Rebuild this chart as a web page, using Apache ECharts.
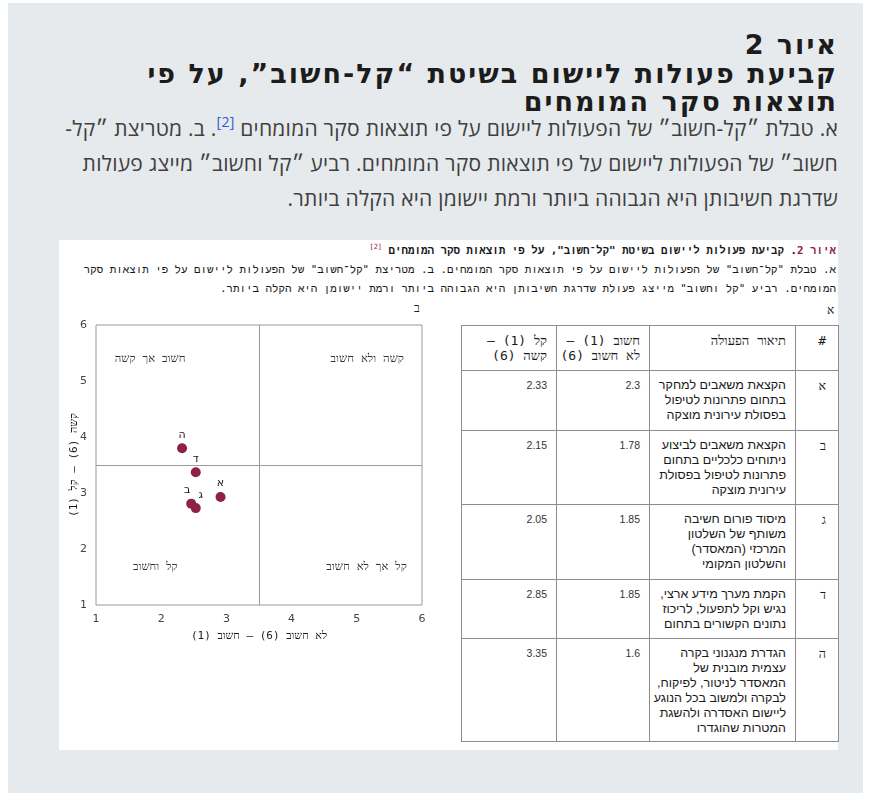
<!DOCTYPE html>
<html lang="he">
<head>
<meta charset="utf-8">
<script src="https://cdn.jsdelivr.net/npm/echarts@6/dist/echarts.min.js"></script>
<style>
  html, body { margin: 0; padding: 0; width: 869px; height: 793px; overflow: hidden; background: #ffffff; }
  #panel { position: absolute; left: 8px; top: 3px; width: 855px; height: 790px; background: #e6eaed; }
  .rtl { direction: rtl; text-align: right; }
  .tl { position: absolute; right: 31px; width: 780px; height: 24px; font-family: "DejaVu Sans", sans-serif; font-weight: bold; font-size: 27px; line-height: 24px; letter-spacing: 2px; color: #1c1c1c; white-space: nowrap; }
  .pl { position: absolute; right: 31px; width: 800px; height: 26px; font-family: "Open Sans", "Liberation Sans", sans-serif; font-size: 21px; line-height: 26px; letter-spacing: 0.25px; color: #404040; white-space: nowrap; }
  .pl sup { color: #2a5fd0; font-size: 14px; vertical-align: baseline; position: relative; top: -9px; line-height: 0; }
  #img { position: absolute; left: 59px; top: 240px; width: 779px; height: 510px; background: #ffffff; }
  #cap { position: absolute; right: 2px; top: 1px; font-family: "DejaVu Sans Mono", "Liberation Mono", monospace; font-size: 10.8px; line-height: 19px; color: #161616; white-space: nowrap; }
  #cap b { color: #8e2145; }
  #cap sup { font-size: 7px; color: #8e2145; vertical-align: baseline; position: relative; top: -5px; line-height: 0; }
  .lbl { position: absolute; font-family: "DejaVu Sans Mono", monospace; font-size: 12px; color: #222; }
  #chart { position: absolute; left: 0px; top: 60px; width: 390px; height: 350px; direction: rtl; }
  #tbl { position: absolute; left: 402px; top: 85px; width: 377px; border-collapse: collapse; direction: rtl; table-layout: fixed; }
  #tbl td, #tbl th { border: 1px solid #8c8c8c; vertical-align: top; text-align: right; padding: 7px 9px 0 2px; font-family: "Liberation Sans", "DejaVu Sans", sans-serif; font-size: 12.5px; line-height: 15px; color: #1a1a1a; font-weight: normal; box-sizing: border-box; white-space: nowrap; overflow: visible; }
  #tbl th { font-family: "DejaVu Sans Mono", monospace; font-size: 13px; }
  #tbl td.num { font-size: 10.5px; color: #333; }
  #tbl td.id { font-family: "DejaVu Sans Mono", monospace; padding-right: 12px; }
</style>
</head>
<body>
<div id="panel"></div>
<div class="tl rtl" style="top:33px;">איור 2</div>
<div class="tl rtl" style="top:62px;">קביעת פעולות ליישום בשיטת “קל-חשוב”, על פי</div>
<div class="tl rtl" style="top:90px;">תוצאות סקר המומחים</div>
<div class="pl rtl" style="top:115px;">א. טבלת ״קל-חשוב״ של הפעולות ליישום על פי תוצאות סקר המומחים <sup>[2]</sup>. ב. מטריצת ״קל-</div>
<div class="pl rtl" style="top:150px;">חשוב״ של הפעולות ליישום על פי תוצאות סקר המומחים. רביע ״קל וחשוב״ מייצג פעולות</div>
<div class="pl rtl" style="top:185px;">שדרגת חשיבותן היא הגבוהה ביותר ורמת יישומן היא הקלה ביותר.</div>
<div id="img">
  <div id="cap" class="rtl"><b>איור 2</b><span style="font-weight:bold">. קביעת פעולות ליישום בשיטת "קל־חשוב", על פי תוצאות סקר המומחים</span> <sup>[2]</sup><br>א. טבלת "קל־חשוב" של הפעולות ליישום על פי תוצאות סקר המומחים. ב. מטריצת "קל־חשוב" של הפעולות ליישום על פי תוצאות סקר<br>המומחים. רביע "קל וחשוב" מייצג פעולת שדרגת חשיבותן היא הגבוהה ביותר ורמת יישומן היא הקלה ביותר.</div>
  <div class="lbl" style="left:768px; top:63px;">א</div>
  <div class="lbl" style="left:355px; top:61px;">ב</div>
  <div id="chart"></div>
  <table id="tbl"></table>
</div>
<script>
// ---- scatter data (as plotted in the matrix) ----
const pointNames = ['א', 'ב', 'ג', 'ד', 'ה'];
const importanceX = [2.91, 2.46, 2.53, 2.53, 2.32];
const easeY = [2.93, 2.81, 2.73, 3.37, 3.80];
// ---- quadrant captions ----
const quadrantNames = ['חשוב אך קשה', 'קשה ולא חשוב', 'קל וחשוב', 'קל אך לא חשוב'];
const quadrantX = [1.83, 5.16, 1.91, 5.15];
const quadrantY = [5.40, 5.40, 1.67, 1.67];
const dividerValue = 3.5;
const axisMin = 1, axisMax = 6, axisStep = 1;
const xAxisName = 'לא חשוב (6) – חשוב (1)';
const yAxisName = 'קשה (6) – קל (1)';
// ---- table data ----
const tableHeaders = ['#', 'תיאור הפעולה', 'חשוב (1) –<br>לא חשוב (6)', 'קל (1) –<br>קשה (6)'];
const tableIds = ['א', 'ב', 'ג', 'ד', 'ה'];
const tableDescriptions = [
  'הקצאת משאבים למחקר<br>בתחום פתרונות לטיפול<br>בפסולת עירונית מוצקה',
  'הקצאת משאבים לביצוע<br>ניתוחים כלכליים בתחום<br>פתרונות לטיפול בפסולת<br>עירונית מוצקה',
  'מיסוד פורום חשיבה<br>משותף של השלטון<br>המרכזי (המאסדר)<br>והשלטון המקומי',
  'הקמת מערך מידע ארצי,<br>נגיש וקל לתפעול, לריכוז<br>נתונים הקשורים בתחום',
  'הגדרת מנגנוני בקרה<br>עצמית מובנית של<br>המאסדר לניטור, לפיקוח,<br>לבקרה ולמשוב בכל הנוגע<br>ליישום האסדרה ולהשגת<br>המטרות שהוגדרו'
];
const tableImportance = ['2.3', '1.78', '1.85', '1.85', '1.6'];
const tableEase = ['2.33', '2.15', '2.05', '2.85', '3.35'];

// ---- build table ----
const colWidths = [43, 146, 93, 95];
const rowHeights = [45, 60, 74, 75, 59, 103];
const tbl = document.getElementById('tbl');
let html = '<colgroup>' + colWidths.map(w => '<col style="width:' + w + 'px">').join('') + '</colgroup>';
html += '<tr style="height:' + rowHeights[0] + 'px">' + tableHeaders.map((h, i) => '<th' + (i === 0 ? ' style="padding-right:12px"' : '') + '>' + h + '</th>').join('') + '</tr>';
tableIds.forEach((id, i) => {
  html += '<tr style="height:' + rowHeights[i + 1] + 'px">' +
    '<td class="id">' + id + '</td>' +
    '<td>' + tableDescriptions[i] + '</td>' +
    '<td class="num">' + tableImportance[i] + '</td>' +
    '<td class="num">' + tableEase[i] + '</td></tr>';
});
tbl.innerHTML = html;

// ---- chart ----
const chart = echarts.init(document.getElementById('chart'));
const labelOffsets = { 'ב': [-4, 0], 'ג': [5, 1] };
const pointData = pointNames.map((n, i) => ({
  name: n,
  value: [importanceX[i], easeY[i]],
  label: { offset: labelOffsets[n] || [0, 0] }
}));
const quadData = quadrantNames.map((n, i) => ({ name: n, value: [quadrantX[i], quadrantY[i]] }));
const axisCommon = {
  type: 'value', min: axisMin, max: axisMax, interval: axisStep,
  axisLine: { show: false }, axisTick: { show: false }, splitLine: { show: false },
  axisLabel: { color: '#444', fontSize: 11, fontFamily: 'DejaVu Sans' },
  nameLocation: 'middle', nameMoveOverlap: false,
  nameTextStyle: { color: '#1a1a1a', fontSize: 11, fontFamily: 'DejaVu Sans Mono' }
};
chart.setOption({
  animation: false,
  grid: { left: 37, top: 25, width: 326, height: 280, show: true, borderColor: '#9a9a9a', borderWidth: 1, backgroundColor: 'transparent', containLabel: false, outerBoundsMode: 'none' },
  xAxis: Object.assign({}, axisCommon, { name: xAxisName, nameGap: 26, axisLabel: Object.assign({}, axisCommon.axisLabel, { margin: 9 }) }),
  yAxis: Object.assign({}, axisCommon, { name: yAxisName, nameGap: 16, axisLabel: Object.assign({}, axisCommon.axisLabel, { margin: 9 }) }),
  series: [
    {
      type: 'scatter', data: pointData, symbolSize: 10,
      itemStyle: { color: '#8e2145', opacity: 1 },
      label: { show: true, position: 'top', distance: 3, formatter: p => p.name, color: '#1a1a1a', fontSize: 11, fontFamily: 'DejaVu Sans' },
      markLine: {
        silent: true, symbol: 'none', label: { show: false },
        lineStyle: { color: '#9a9a9a', width: 1, type: 'solid' },
        data: [{ xAxis: dividerValue }, { yAxis: dividerValue }]
      },
      z: 5
    },
    {
      type: 'scatter', data: quadData, symbolSize: 0, silent: true,
      label: { show: true, position: 'inside', formatter: p => p.name, color: '#000', fontSize: 11.5, fontFamily: 'DejaVu Sans Mono' }
    }
  ]
});
</script>
</body>
</html>
